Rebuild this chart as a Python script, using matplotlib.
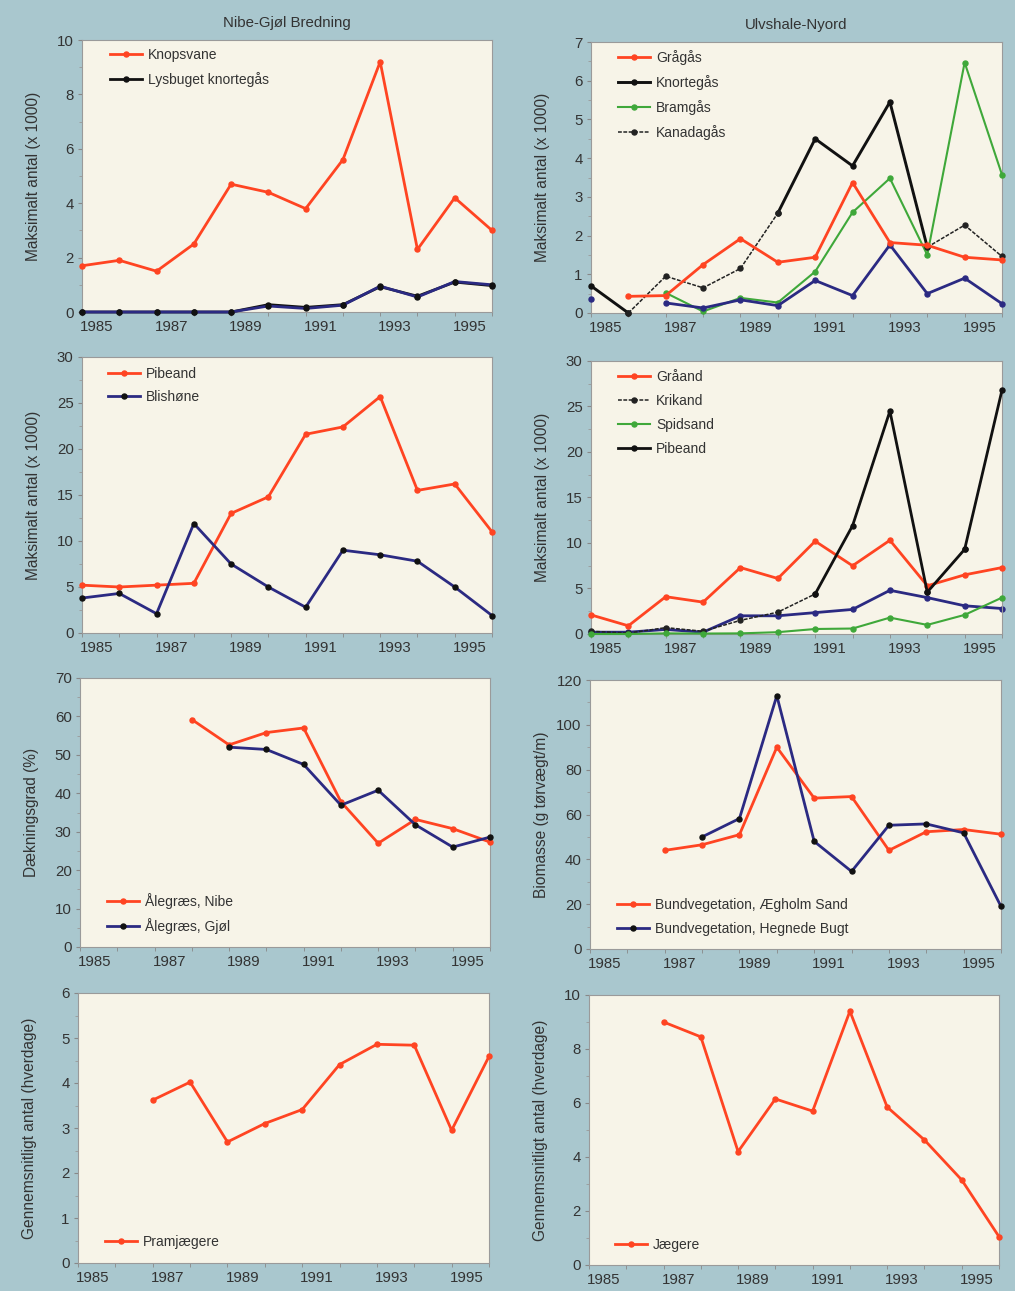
import matplotlib
matplotlib.use("Agg")
import matplotlib.pyplot as plt
import numpy as np
from matplotlib.ticker import FixedLocator, MultipleLocator

plt.rcParams['font.family'] = ['Liberation Sans', 'DejaVu Sans']

nan = np.nan
years = list(range(1985, 1997))
tick_years = [1985, 1987, 1989, 1991, 1993, 1995]
tick_labels = [str(y) for y in tick_years]

# --- Nibe-Gjøl Bredning: birds (x 1000)
knopsvane = [1.7, 1.9, 1.5, 2.5, 4.7, 4.4, 3.8, 5.6, 9.2, 2.3, 4.2, 3.0]
lysbuget_knortegaas = [0, 0, 0, 0, 0, 0.27, 0.17, 0.27, 0.93, 0.58, 1.1, 0.97]
nibe_blue = [0, 0, 0, 0, 0, 0.22, 0.13, 0.25, 0.95, 0.55, 1.12, 1.0]

# --- Ulvshale-Nyord: geese (x 1000)
graagaas = [nan, 0.43, 0.45, 1.25, 1.92, 1.31, 1.44, 3.37, 1.82, 1.75, 1.44, 1.37]
knortegaas = [0.7, 0.0, nan, nan, nan, 2.58, 4.5, 3.8, 5.45, 1.7, nan, nan]
bramgaas = [nan, nan, 0.52, 0.04, 0.39, 0.27, 1.07, 2.6, 3.48, 1.5, 6.47, 3.57]
kanadagaas = [nan, 0.0, 0.95, 0.65, 1.15, 2.58, nan, nan, nan, 1.7, 2.27, 1.46]
ulv_geese_blue = [0.36, nan, 0.26, 0.13, 0.34, 0.19, 0.84, 0.45, 1.76, 0.5, 0.9, 0.24]

# --- Nibe-Gjøl: ducks/coots (x 1000)
pibeand_nibe = [5.2, 5.0, 5.2, 5.4, 13.0, 14.8, 21.6, 22.4, 25.7, 15.5, 16.2, 11.0]
blishoene = [3.8, 4.3, 2.1, 11.9, 7.5, 5.0, 2.8, 9.0, 8.5, 7.8, 5.0, 1.9]

# --- Ulvshale-Nyord: ducks (x 1000)
graaand = [2.1, 0.9, 4.1, 3.5, 7.3, 6.1, 10.2, 7.5, 10.3, 5.3, 6.5, 7.3]
krikand = [0.3, 0.1, 0.7, 0.3, 1.5, 2.4, 4.4, nan, nan, 4.6, 9.3, nan]
spidsand = [0.0, 0.0, 0.07, 0.05, 0.07, 0.2, 0.55, 0.6, 1.8, 1.0, 2.1, 4.0]
pibeand_ulv = [nan, nan, nan, nan, nan, nan, 4.4, 11.9, 24.5, 4.6, 9.3, 26.8]
ulv_ducks_blue = [0.2, 0.2, 0.5, 0.2, 2.0, 2.0, 2.35, 2.7, 4.8, 4.0, 3.1, 2.8]

# --- Eelgrass cover (%)
aalegraes_nibe = [nan, nan, nan, 59.2, 52.6, 55.8, 57.0, 37.8, 27.0, 33.2, 30.8, 27.3]
aalegraes_gjoel = [nan, nan, nan, nan, 52.0, 51.4, 47.5, 36.9, 40.8, 31.8, 26.0, 28.6]

# --- Bottom vegetation biomass
bund_aegholm = [nan, nan, 44.0, 46.5, 51.0, 90.0, 67.3, 68.0, 44.0, 52.3, 53.3, 51.2]
bund_hegnede = [nan, nan, nan, 50.0, 58.2, 113.0, 48.0, 34.6, 55.2, 55.8, 51.8, 19.0]

# --- Hunters (average number, weekdays)
pramjaegere = [nan, nan, 3.62, 4.02, 2.69, 3.1, 3.41, 4.41, 4.86, 4.84, 2.95, 4.59]
jaegere = [nan, nan, 9.0, 8.45, 4.2, 6.15, 5.7, 9.4, 5.85, 4.63, 3.15, 1.05]

BG = '#a9c7ce'
PLOT_BG = '#f7f4e8'
RED = '#ff4422'
NAVY = '#2b2a82'
GREEN = '#3fa83a'
BLACK = '#111111'
TXT = '#333333'

W, H = 1015, 1291
fig = plt.figure(figsize=(W / 100, H / 100), dpi=100, facecolor=BG)


def add_ax(x0, x1, top, bottom):
    return fig.add_axes([x0 / W, 1 - bottom / H, (x1 - x0) / W, (bottom - top) / H])


def style(ax, ymax, ystep, ylabel):
    ax.set_facecolor(PLOT_BG)
    ax.set_xlim(1985, 1996)
    ax.set_ylim(0, ymax)
    ax.xaxis.set_major_locator(FixedLocator([y + 0.4 for y in tick_years]))
    ax.set_xticklabels(tick_labels)
    ax.xaxis.set_minor_locator(FixedLocator(years))
    ax.tick_params(axis='x', which='major', length=0, pad=6, labelsize=10.8, labelcolor=TXT)
    ax.tick_params(axis='x', which='minor', length=3, direction='out', color='#888888')
    ax.yaxis.set_major_locator(MultipleLocator(ystep))
    ax.yaxis.set_minor_locator(MultipleLocator(ystep / 2))
    ax.tick_params(axis='y', which='major', length=3, pad=3, labelsize=10.8,
                   labelcolor=TXT, color='#888888')
    ax.tick_params(axis='y', which='minor', length=2, color='#999999')
    for s in ax.spines.values():
        s.set_color('#9a9a9a')
        s.set_linewidth(0.8)
    ax.set_ylabel(ylabel, fontsize=11.2, color=TXT)
    ax.yaxis.set_label_coords(-0.1, 0.5)


def series(ax, y, color, label='_nolegend_', lw=2.0, mcolor=None, ls='-', z=3):
    mc = mcolor or color
    ax.plot(years, y, color=color, lw=lw, ls=ls, marker='o', ms=3.6, mfc=mc, mec=mc,
            label=label, clip_on=False, zorder=z)


def legend(ax, dx, dy, loc, ls):
    bw = ax.get_position().width * W
    bh = ax.get_position().height * H
    if loc == 'upper left':
        anchor = (dx / bw, 1 - dy / bh)
    else:
        anchor = (dx / bw, dy / bh)
    leg = ax.legend(loc=loc, bbox_to_anchor=anchor, frameon=False, fontsize=10,
                    handlelength=2.3, handletextpad=0.45, labelspacing=ls,
                    borderpad=0, borderaxespad=0, numpoints=1)
    for t in leg.get_texts():
        t.set_color(TXT)


L0, L1 = 82, 492
R0, R1 = 591, 1002

# Row 1
ax1 = add_ax(L0, L1, 40, 312)
style(ax1, 10, 2, 'Maksimalt antal (x 1000)')
series(ax1, knopsvane, RED, 'Knopsvane')
series(ax1, lysbuget_knortegaas, BLACK, 'Lysbuget knortegås')
series(ax1, nibe_blue, NAVY, mcolor=BLACK)
ax1.set_title('Nibe-Gjøl Bredning', fontsize=10.8, color=TXT, pad=9)
legend(ax1, 28, 8, 'upper left', 0.7)

ax2 = add_ax(R0, R1, 42, 313)
style(ax2, 7, 1, 'Maksimalt antal (x 1000)')
series(ax2, graagaas, RED, 'Grågås', z=4)
series(ax2, knortegaas, BLACK, 'Knortegås', lw=2.1)
series(ax2, bramgaas, GREEN, 'Bramgås', lw=1.5)
series(ax2, kanadagaas, '#222222', 'Kanadagås', lw=1.1, ls=(0, (2.5, 1)))
series(ax2, ulv_geese_blue, NAVY)
ax2.set_title('Ulvshale-Nyord', fontsize=10.8, color=TXT, pad=9)
legend(ax2, 27, 8, 'upper left', 0.72)

# Row 2
ax3 = add_ax(L0, L1, 357, 633)
style(ax3, 30, 5, 'Maksimalt antal (x 1000)')
series(ax3, pibeand_nibe, RED, 'Pibeand')
series(ax3, blishoene, NAVY, 'Blishøne', mcolor=BLACK)
legend(ax3, 26, 10, 'upper left', 0.65)

ax4 = add_ax(R0, R1, 361, 634)
style(ax4, 30, 5, 'Maksimalt antal (x 1000)')
series(ax4, graaand, RED, 'Gråand')
series(ax4, krikand, '#222222', 'Krikand', lw=1.1, ls=(0, (2.5, 1)))
series(ax4, spidsand, GREEN, 'Spidsand', lw=1.5)
series(ax4, pibeand_ulv, BLACK, 'Pibeand', lw=2.0)
series(ax4, ulv_ducks_blue, NAVY, z=2)
legend(ax4, 27, 9, 'upper left', 0.72)

# Row 3
ax5 = add_ax(80, 490, 678, 947)
style(ax5, 70, 10, 'Dækningsgrad (%)')
series(ax5, aalegraes_nibe, RED, 'Ålegræs, Nibe')
series(ax5, aalegraes_gjoel, NAVY, 'Ålegræs, Gjøl', mcolor=BLACK)
legend(ax5, 27, 13, 'lower left', 0.65)

ax6 = add_ax(590, 1001, 680, 949)
style(ax6, 120, 20, 'Biomasse (g tørvægt/m)')
series(ax6, bund_aegholm, RED, 'Bundvegetation, Ægholm Sand')
series(ax6, bund_hegnede, NAVY, 'Bundvegetation, Hegnede Bugt', mcolor=BLACK)
legend(ax6, 27, 13, 'lower left', 0.7)

# Row 4
ax7 = add_ax(78, 489, 993, 1263)
style(ax7, 6, 1, 'Gennemsnitligt antal (hverdage)')
series(ax7, pramjaegere, RED, 'Pramjægere')
legend(ax7, 27, 14, 'lower left', 0.7)

ax8 = add_ax(589, 999, 995, 1265)
style(ax8, 10, 2, 'Gennemsnitligt antal (hverdage)')
series(ax8, jaegere, RED, 'Jægere')
legend(ax8, 26, 13, 'lower left', 0.7)

fig.savefig('out.png', dpi=100, facecolor=BG)
